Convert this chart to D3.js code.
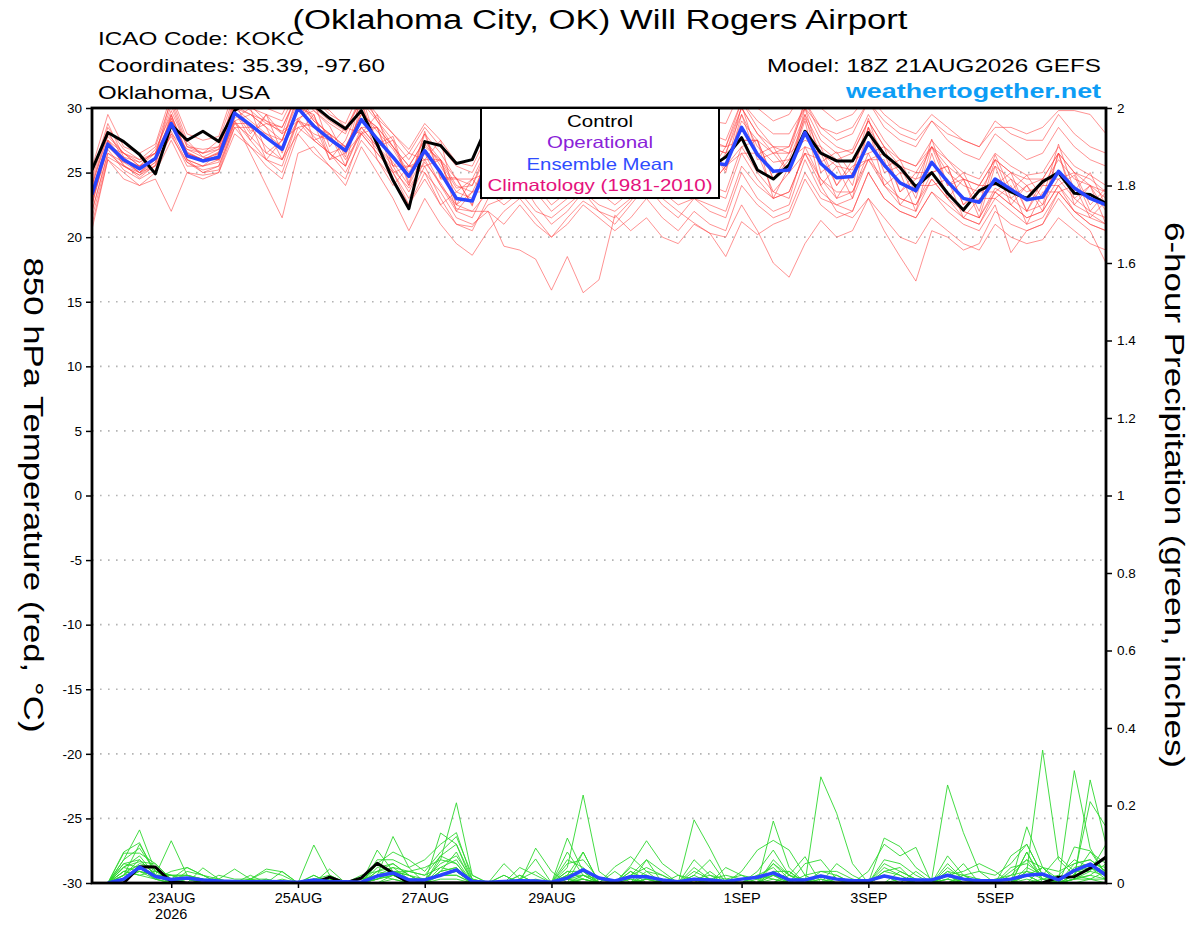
<!DOCTYPE html>
<html>
<head>
<meta charset="utf-8">
<script src="https://cdn.jsdelivr.net/npm/d3@7"></script>
<style>
  body { margin: 0; background: #fff; }
  svg text { font-family: "Liberation Sans", Arial, Helvetica, sans-serif; }
</style>
</head>
<body>
<svg id="chart" width="1200" height="927"></svg>
<script>
// GEFS run 18Z 21AUG2026, 6-hourly steps out to 6SEP 18Z
const runStart = Date.UTC(2026, 7, 21, 18);
const stepHours = 6;

// 850 hPa temperature (degC), steps 0..64
const tempControl = [25.2,28.1,27.4,26.4,24.9, 28.7,27.5,28.2,27.4,29.8, 30.6,31.0,31.2,30.8,30.2, 29.2,28.4,29.8,27.2,24.4, 22.2,27.4,27.1,25.7,26.0, 28.8,28.0,27.2,26.5,27.0, 27.8,26.9,26.2,27.0,27.5, 26.8,26.0,26.8,25.9,25.4, 26.2,27.7,25.2,24.5,25.6, 28.2,26.5,25.9,25.9,28.1, 26.4,25.4,23.9,25.0,23.4, 22.1,23.6,24.2,23.5,23.0, 24.3,25.0,23.4,23.3,22.6];
const tempMean = [23.3,27.2,26.0,25.3,26.1, 28.8,26.3,25.9,26.2,29.6, 28.7,27.7,26.8,30.0,28.6, 27.6,26.7,29.1,27.6,26.2, 24.7,26.7,25.0,23.0,22.8, 25.8,26.5,27.0,26.2,25.5, 26.0,26.8,26.3,25.8,26.5, 27.2,26.4,25.9,26.6,25.8, 25.6,28.5,26.4,25.1,25.2, 28.1,25.7,24.6,24.7,27.3, 25.6,24.2,23.6,25.8,24.3, 23.0,22.7,24.5,23.7,22.9, 23.1,25.1,23.8,23.0,22.5];
const tempMembers = [
  [24.5,28.5,26.8,26.0,27.0, 30.5,27.2,26.5,27.5,31.0, 30.2,29.0,28.0,31.5,30.0, 29.0,28.2,31.0,29.5,28.0, 26.5,28.5,27.0,25.5,25.0, 27.5,28.0,28.5,27.5,27.0, 27.8,28.5,28.0,27.2,28.0, 29.0,28.0,27.0,28.0,27.2, 27.0,30.0,28.0,27.0,27.0, 30.0,27.5,26.5,26.8,29.5, 27.5,26.0,25.5,27.5,26.0, 25.0,24.5,26.5,25.5,24.8, 25.0,27.0,25.5,24.8,24.0],
  [21.0,26.0,25.0,24.0,24.5, 22.0,25.0,24.8,25.0,28.0, 27.0,26.0,25.0,28.5,27.5, 26.5,25.0,27.5,26.0,24.5, 22.5,25.0,23.5,21.5,21.0, 22.0,19.3,19.0,18.3,15.9, 18.5,15.7,16.7,21.7,20.5, 21.5,20.0,19.5,21.0,20.3, 20.0,22.5,20.5,18.0,16.9, 19.5,21.3,20.0,20.5,23.0, 21.5,20.0,19.5,21.5,20.5, 19.5,19.0,21.0,20.0,19.5, 19.8,21.5,20.5,19.5,19.0],
  [22.5,27.5,25.5,24.8,25.8, 29.5,26.0,25.0,25.5,29.0, 26.5,24.0,21.5,26.5,27.0, 25.5,24.5,28.0,26.5,25.0, 23.0,25.5,23.0,21.0,20.5, 23.0,24.0,25.5,24.0,22.5, 23.5,25.0,24.5,23.0,24.0, 26.0,25.0,23.5,25.0,24.0, 23.5,27.0,25.0,23.5,23.0, 27.0,24.5,23.0,23.5,26.5, 24.0,22.5,22.0,24.5,23.0, 21.5,21.0,23.5,22.5,21.5, 22.0,24.0,22.0,21.5,21.0],
  [24.0,28.0,26.5,25.8,26.5, 30.2,27.0,26.8,27.0,30.5, 30.0,29.5,29.0,31.5,30.5, 29.8,28.5,30.5,29.0,27.5, 26.0,28.0,26.5,24.5,24.5, 27.0,28.5,29.0,28.0,27.0, 28.0,29.0,28.5,27.5,28.5, 29.5,28.0,27.5,28.5,27.5, 27.0,30.5,28.5,27.0,26.5, 30.5,28.0,27.0,26.5,29.0, 27.0,25.5,25.0,27.0,26.0, 24.5,24.0,26.0,25.0,24.5, 24.5,26.5,25.0,24.5,23.5],
  [23.0,27.0,25.8,25.0,26.0, 28.5,26.5,26.0,26.0,29.0, 29.5,28.5,26.0,28.0,29.5, 26.0,27.5,30.5,26.0,24.0, 25.5,25.0,22.5,23.5,24.5, 23.0,26.5,25.0,27.0,23.0, 24.5,27.5,24.0,26.0,23.5, 27.0,24.0,25.5,27.5,24.0, 25.5,27.0,27.5,23.0,25.5, 29.0,24.0,25.5,23.0,28.5, 24.0,25.0,22.0,26.5,23.0, 24.5,21.5,25.5,22.5,24.0, 22.0,26.5,22.5,24.0,21.0],
  [22.0,26.5,25.5,25.0,25.5, 28.0,25.5,25.5,26.0,29.5, 28.5,27.0,26.0,29.0,27.5, 26.5,25.5,28.5,27.0,25.5, 23.5,26.0,24.0,22.0,21.5, 24.0,24.5,25.0,23.5,22.0, 23.0,24.5,23.5,22.5,23.5, 25.0,24.0,23.0,24.5,23.5, 23.0,26.5,24.5,23.0,23.5, 26.5,24.0,22.0,21.5,23.0, 20.5,18.5,16.6,20.5,20.0, 19.0,19.5,22.0,21.0,20.5, 21.0,23.5,22.0,21.0,20.5],
  [23.5,27.5,26.0,25.5,26.0, 29.0,26.0,25.5,26.5,30.0, 29.5,28.5,27.5,30.5,29.0, 28.0,27.0,29.5,28.5,27.0, 25.5,27.5,25.5,23.5,23.0, 26.5,27.5,28.0,27.0,26.5, 27.0,28.0,27.5,27.0,27.5, 28.5,27.5,27.0,27.5,27.0, 26.5,30.0,28.0,26.5,27.0, 30.5,28.5,27.5,28.0,30.5, 28.5,27.5,27.0,29.0,27.5, 26.5,26.0,28.0,27.0,26.0, 26.5,28.5,27.0,26.0,25.5],
  [22.8,26.8,25.2,24.5,25.2, 28.0,26.8,26.5,26.8,29.0, 27.5,26.0,25.5,29.0,28.5, 28.0,26.0,28.0,26.5,25.0, 22.5,24.5,22.5,21.0,20.8, 22.5,23.0,24.5,22.5,21.0, 22.0,23.5,22.0,21.0,22.5, 24.0,22.5,21.5,23.0,22.0, 21.5,25.0,23.0,22.0,22.5, 26.0,23.5,22.5,22.0,25.0, 23.0,22.0,21.5,23.5,22.0, 21.0,20.5,22.5,18.8,20.5, 21.0,23.0,21.5,20.5,18.0],
  [24.0,27.8,26.5,25.5,26.8, 29.5,26.5,26.0,26.0,29.8, 27.5,29.5,28.0,29.0,30.5, 27.0,28.5,28.0,29.5,25.5, 26.5,26.0,27.5,22.5,24.5, 25.0,27.5,26.0,28.0,24.5, 27.5,26.0,28.0,25.0,28.0, 26.5,27.5,25.0,28.0,25.0, 27.0,27.5,27.5,24.5,26.5, 27.5,27.0,24.0,26.0,26.5, 27.0,23.5,25.0,25.0,25.5, 22.5,24.0,24.0,25.0,22.0, 24.5,24.5,25.0,22.5,23.8],
  [23.0,27.0,26.5,26.0,26.5, 29.0,26.0,25.5,25.8,29.2, 30.0,26.5,27.5,31.0,27.5, 28.0,25.5,30.5,27.0,27.5, 24.0,28.0,24.5,24.5,22.5, 27.0,26.0,28.5,25.5,27.0, 25.5,28.0,25.8,27.0,26.0, 28.5,26.0,27.0,26.0,27.0, 25.0,29.5,26.0,26.5,25.0, 29.5,25.0,26.0,24.0,28.5, 25.0,25.5,23.0,27.0,24.0, 24.5,22.0,26.0,23.0,24.0, 22.5,26.5,23.0,24.0,22.0],
  [20.6,26.0,24.5,24.0,25.0, 27.5,25.0,24.5,25.0,28.5, 27.0,25.5,24.5,28.0,26.5, 25.5,24.0,27.0,25.0,23.0, 20.5,23.0,21.0,19.5,18.6, 20.5,22.0,23.0,21.5,20.0, 21.0,22.5,21.5,20.5,21.5, 23.0,21.5,20.5,22.0,21.0, 20.5,24.0,22.5,21.5,22.0, 25.0,23.0,22.5,23.0,26.0, 24.0,23.0,22.5,25.0,23.5, 22.0,21.5,23.5,22.5,21.5, 22.0,24.0,22.5,21.8,21.0],
  [24.8,28.8,26.2,25.2,26.2, 30.8,27.5,26.2,26.8,30.8, 29.8,28.8,28.5,31.0,29.2, 27.8,26.5,29.8,28.2,26.8, 24.8,27.2,25.8,23.8,24.0, 27.0,27.8,28.8,27.8,27.0, 27.5,28.8,28.0,27.2,28.0, 29.0,28.0,27.0,28.0,27.0, 26.5,29.5,27.0,25.8,26.0, 29.2,26.5,25.5,25.2,28.5, 26.5,25.0,24.5,27.0,25.0, 24.0,23.5,25.5,24.5,23.5, 24.0,26.0,24.5,24.0,23.0],
  [22.0,26.5,25.8,25.5,26.0, 27.8,25.8,25.2,25.5,28.5, 28.5,28.0,27.0,29.0,28.0, 27.5,27.0,28.5,27.0,25.8, 24.0,26.5,24.0,22.5,22.0, 22.0,21.0,22.5,21.0,20.0, 21.5,22.8,22.0,21.5,22.8, 24.5,23.5,22.5,23.0,22.5, 22.0,25.5,24.0,23.0,23.5, 26.5,24.5,23.5,23.5,26.0, 24.5,23.0,22.5,24.5,23.0, 22.0,21.5,23.8,23.0,22.0, 22.5,24.5,23.0,22.0,21.5],
  [23.8,27.2,26.0,25.0,26.2, 29.2,26.2,26.0,26.5,29.8, 28.0,29.5,26.5,30.0,29.5, 26.5,27.0,28.5,28.5,25.5, 25.5,26.0,26.0,22.5,23.5, 24.5,27.0,25.5,26.5,24.0, 26.5,25.5,27.0,24.5,27.0, 26.0,27.0,24.5,27.0,24.5, 26.5,27.5,27.5,24.5,26.0, 27.0,26.5,24.0,25.5,26.0, 26.5,23.5,24.5,25.0,25.5, 22.5,23.5,23.5,24.5,22.0, 24.0,24.0,24.8,22.0,23.5],
  [25.4,29.5,27.0,26.5,27.2, 31.0,28.0,27.5,27.8,31.5, 30.5,30.0,29.5,32.0,30.8, 29.5,28.8,31.5,29.0,27.0, 25.0,27.0,26.0,24.0,23.5, 26.0,26.5,27.0,26.0,25.0, 26.0,27.0,26.5,26.0,26.5, 27.5,26.5,26.0,26.5,26.0, 25.5,29.0,27.5,26.5,26.5, 29.5,27.0,26.0,26.5,29.0, 27.0,26.0,25.5,27.0,25.5, 24.5,24.0,26.0,25.0,24.0, 24.5,26.5,25.0,24.0,23.5],
  [22.5,27.0,26.2,25.8,26.5, 28.5,26.8,26.2,26.0,28.8, 28.8,26.0,27.5,28.5,28.8, 26.0,26.5,28.0,28.5,25.0, 25.5,25.5,26.0,22.0,23.5, 23.5,26.0,25.0,26.0,23.5, 26.0,25.0,26.0,23.5,26.0, 25.5,26.5,23.5,26.5,24.0, 25.5,26.5,26.5,23.5,25.0, 26.5,26.0,23.0,25.0,26.0, 26.0,22.5,24.0,24.0,24.5, 21.5,23.0,23.0,24.0,21.0, 23.5,23.5,24.0,21.5,22.8],
  [23.5,27.5,26.5,25.5,26.5, 29.8,27.0,26.5,27.0,30.2, 29.5,29.0,28.5,31.2,29.8, 28.8,28.0,30.8,29.2,28.0, 26.8,28.8,27.5,25.8,25.5, 28.0,29.0,29.5,29.0,28.5, 29.0,30.0,29.5,29.0,29.5, 30.5,29.5,29.0,29.5,29.0, 28.8,31.5,30.0,29.0,29.5, 31.5,30.0,29.0,29.5,31.0, 29.5,28.5,28.0,29.5,28.5, 27.5,27.0,29.0,28.0,27.5, 27.5,29.5,28.0,27.0,26.5],
  [24.2,28.2,26.0,25.0,25.8, 29.2,26.5,26.0,26.5,30.0, 29.0,28.0,27.5,30.8,29.0, 28.0,27.0,29.5,28.5,27.0, 25.5,27.5,26.0,24.5,24.0, 26.5,27.0,28.0,27.5,27.0, 27.5,28.5,28.0,27.5,28.0, 29.0,28.5,28.0,28.5,28.0, 27.5,30.5,29.0,28.0,28.0, 30.0,28.5,28.0,28.5,30.5, 29.0,28.0,27.5,29.0,28.0, 27.5,27.0,28.5,28.5,28.0, 28.5,29.8,29.8,29.5,28.0],
  [21.5,26.2,25.5,24.8,25.5, 28.2,25.8,25.0,25.2,28.8, 27.8,26.5,26.0,29.2,27.8, 26.5,25.5,28.2,26.8,25.2, 23.8,25.8,24.2,22.2,22.0, 23.5,22.5,23.5,22.0,21.5, 22.5,23.5,22.5,22.0,23.0, 24.5,23.0,22.0,21.1,20.3, 18.5,21.2,20.2,21.0,21.5, 24.5,22.5,21.5,22.0,25.0, 23.0,22.0,21.5,23.5,22.5, 21.5,21.0,23.0,22.0,21.0, 21.5,23.5,22.0,21.0,20.5],
  [23.2,27.4,25.6,24.6,25.6, 29.4,26.6,26.0,26.6,30.4, 28.2,28.8,28.2,29.2,29.8, 28.6,26.2,31.0,27.2,27.8, 24.2,28.2,24.6,24.6,22.4, 27.2,25.8,28.6,25.6,27.0, 25.6,28.6,26.0,27.4,26.0, 29.0,26.0,27.4,26.0,27.4, 25.2,30.2,26.4,27.0,25.0, 30.0,25.8,26.6,24.8,29.2, 25.4,26.0,23.4,27.6,24.0, 25.0,22.6,26.4,23.6,24.8, 23.0,27.2,23.6,25.0,22.4]
];

// 6-hour precipitation (inches), steps 1..64
const precipControl = [0,0,0.042,0.041,0.003,0,0,0, 0,0,0,0,0,0,0.015,0, 0.013,0.051,0.026,0,0,0,0,0, 0,0,0,0,0,0,0,0, 0,0,0,0,0,0,0,0, 0,0,0,0,0,0,0,0, 0,0,0,0,0,0,0,0, 0,0,0,0,0.015,0.016,0.038,0.067];
const precipMean = [0,0.01,0.041,0.017,0.009,0.013,0.008,0.005, 0.004,0.003,0.004,0.003,0.002,0.008,0.004,0.003, 0.002,0.018,0.026,0.008,0.008,0.02,0.034,0.004, 0.002,0.004,0.006,0.005,0.002,0.013,0.034,0.013, 0.005,0.016,0.016,0.008,0.003,0.01,0.008,0.004, 0.01,0.015,0.026,0.008,0.008,0.018,0.01,0.006, 0.006,0.018,0.01,0.008,0.008,0.02,0.01,0.006, 0.006,0.01,0.02,0.023,0.008,0.032,0.049,0.02];
const precipMembers = [
  [0,.06,.137,.03,.01,0,0,0, 0,0,0,0,0,.02,0,0, 0,.03,.05,.02,0,.06,.207,.02, 0,0,.02,0,0,.04,.227,.03, 0,0,.02,0,0,.02,0,0, 0,0,.16,.04,0,.02,.01,0, 0,.02,0,0,0,.05,.01,0, 0,0,.03,.343,.06,.02,.01,0],
  [0,.08,.104,.02,.109,.02,0,0, 0,0,0,0,0,0,.01,0, 0,.085,.03,.01,.01,.02,.03,0, 0,0,0,.09,.03,0,.08,0, 0,.045,.109,.05,.02,.01,0,0, 0,0,0,.02,0,.274,.18,.05, 0,0,0,0,0,.02,0,0, 0,0,.03,.02,0,.29,.09,.02],
  [0,.077,.077,.05,.01,.04,.02,.01, .036,.01,.036,.029,0,.098,.02,0, 0,.02,.12,.04,0,.129,.1,.01, 0,.05,.01,.062,0,.116,.03,0, 0,0,.06,0,0,.163,.09,.01, 0,0,0,.03,0,.02,0,0, 0,.116,.094,.04,.01,.253,.13,.03, 0,0,0,.04,0,.01,.266,.10],
  [0,.042,.055,.049,.01,0,.039,.01, 0,0,0,0,0,0,.036,0, 0,.05,.08,.06,.03,.08,.12,.02, 0,0,0,0,0,.08,.02,0, .042,.068,.03,0,0,.01,.02,0, .03,.085,.11,.085,.02,0,0,0, 0,0,0,0,0,.07,.02,0, 0,0,.145,.04,0,.02,.08,.05],
  [0,.02,.1,.03,.02,.02,.01,0, 0,.02,0,.03,0,0,0,0, 0,.06,.06,.04,.06,.1,.13,.01, 0,0,.04,.02,0,.02,.08,0, 0,.02,.06,.03,0,.02,.06,0, 0,0,.02,0,.05,.06,.01,0, .03,.1,.07,.092,0,.02,0,0, 0,.07,.1,.02,0,.02,.21,.145],
  [0,.05,.06,.02,0,.03,.02,0, 0,0,.01,0,0,.02,0,0, 0,.05,.02,0,0,.07,.05,0, 0,0,0,0,0,.03,.03,0, 0,.03,0,0,0,.06,.02,.01, .02,.01,.05,.02,.068,0,0,0, 0,.03,.02,0,0,.02,.03,.05, .03,0,.08,0,0,.093,.083,.02],
  [0,.03,.045,.02,.02,.01,0,.02, .01,.01,.01,0,0,0,0,0, .02,.03,.04,.03,.02,.04,.06,0, 0,0,.01,.03,0,0,.02,.01, 0,0,.03,.02,0,0,.03,0, 0,.03,.085,.02,0,0,.05,.02, 0,0,0,.03,0,0,.02,.03, .02,.05,.1,.02,.068,.03,.03,.02],
  [0,.01,.04,.01,.03,.04,.02,0, 0,.01,.03,.02,0,.01,.02,0, .01,.02,.03,.02,0,.03,.08,0, 0,.02,0,0,0,.01,.01,0, 0,0,.01,0,.02,0,0,0, 0,.02,.04,0,.02,.03,.02,0, 0,.05,.03,.01,0,.03,.02,0, 0,0,.02,.04,.03,.05,.06,.03],
  [0,.04,.03,.02,.01,0,0,0, 0,0,0,0,0,.01,0,0, 0,.01,.03,.03,.02,.07,.1,0, 0,0,0,0,0,.05,.06,.01, 0,.04,.02,0,0,0,0,.04, .02,0,.03,.03,0,0,0,.01, 0,0,0,0,0,.04,.01,0, 0,0,.08,.01,.02,.06,.04,.01],
  [0,.03,.02,.03,.01,.02,.01,0, 0,.01,0,0,0,0,0,0, 0,.04,.05,.02,.01,.05,.07,.01, 0,0,.02,0,0,.06,.04,0, .03,0,.01,0,0,.03,.01,.02, .01,0,.06,.02,.01,0,.02,0, 0,0,.03,.01,0,.03,0,.01, 0,.04,.05,.02,0,.01,.03,.1],
  [0,.02,.05,.04,0,.01,0,0, 0,0,0,0,0,0,.01,0, 0,.03,.02,.01,0,.02,.02,0, 0,0,0,0,0,.01,.02,0, 0,.01,0,0,0,0,.01,0, 0,0,.03,0,0,0,0,0, 0,.03,.04,0,0,0,.02,.01, 0,.03,.06,.04,.01,.03,.04,.02],
  [0,.06,.09,.03,.02,.02,.01,.01, 0,.01,0,0,0,.01,0,0, 0,.01,.03,.02,0,.03,.04,0, 0,0,0,0,0,0,.01,0, 0,.02,.04,.02,0,.01,.01,0, 0,.01,.02,.01,0,0,0,0, 0,.06,.05,.02,0,.01,0,0, 0,0,.04,.02,0,.05,.06,.03],
  [0,.02,.03,.01,0,0,0,0, 0,0,0,0,0,0,0,0, 0,.02,.04,.01,0,.04,.03,0, 0,.02,0,0,0,.02,.03,0, 0,0,.01,0,0,0,0,0, 0,.02,.01,0,0,0,0,0, 0,.02,.01,0,0,.01,0,0, 0,0,.02,0,0,.01,.02,.01],
  [0,.04,.07,.02,.01,0,0,0, 0,0,0,.01,0,0,0,0, 0,.01,.02,.03,.04,.06,.05,0, 0,0,.01,0,0,.03,.01,0, 0,.03,.01,.01,0,.04,.01,0, 0,0,.05,.01,0,.03,.03,.01, 0,.04,.02,0,0,.01,.05,0, .01,.02,.06,.01,0,.04,.05,.04],
  [0,.03,.02,.01,0,0,0,0, 0,0,0,0,0,0,0,0, 0,0,.01,0,0,.02,.02,0, 0,0,0,0,0,.01,0,0, 0,0,0,0,0,0,0,0, 0,0,.01,0,0,0,.01,0, 0,0,.01,0,0,0,0,0, 0,0,.01,0,0,.01,.02,.05],
  [0,.01,.03,.02,0,0,0,0, 0,0,0,0,0,0,0,0, 0,.02,.01,0,0,.01,.01,0, 0,0,0,0,0,0,.01,0, 0,0,0,0,0,0,0,0, 0,0,0,0,0,.01,0,0, 0,0,0,0,0,0,0,0, 0,0,0,.01,0,0,.01,.03],
  [0,.05,.04,.01,0,.01,0,0, 0,0,0,0,0,0,0,0, 0,.01,.02,0,0,.03,.04,0, 0,0,0,.01,0,.02,.02,0, 0,0,.02,0,0,0,0,0, 0,0,.02,0,0,.01,0,0, 0,.02,0,0,0,.02,0,0, 0,.02,.03,.01,0,.02,.04,.02],
  [0,.02,.06,.02,.02,0,0,0, 0,0,0,0,0,0,0,0, 0,0,.02,.01,.01,.02,.03,0, 0,0,0,0,0,.01,0,0, 0,.01,0,0,0,0,0,0, 0,0,0,0,0,0,0,0, 0,0,0,0,0,0,.01,0, 0,0,.02,0,0,.01,.01,.01]
];

const tempTicks = [30, 25, 20, 15, 10, 5, 0, -5, -10, -15, -20, -25, -30];
const tempGrid = [25, 20, 15, 10, 5, 0, -5, -10, -15, -20, -25];
const precipTicks = [0, 0.2, 0.4, 0.6, 0.8, 1, 1.2, 1.4, 1.6, 1.8, 2];
const dateTicks = ["2026-08-23", "2026-08-25", "2026-08-27", "2026-08-29", "2026-09-01", "2026-09-03", "2026-09-05"];
const legendItems = [
  { label: "Control", color: "#000000", len: 66 },
  { label: "Operational", color: "#8a22d8", len: 106 },
  { label: "Ensemble Mean", color: "#2f4cff", len: 147 },
  { label: "Climatology (1981-2010)", color: "#e5117c", len: 225 }
];

const svg = d3.select("#chart");
const plot = { left: 92, right: 1106, top: 108, bottom: 883 };

const stepTime = i => new Date(runStart + i * stepHours * 3600 * 1000);
const x = d3.scaleUtc().domain([stepTime(0), stepTime(64)]).range([plot.left, plot.right]);
const yT = d3.scaleLinear().domain([-30, 30]).range([plot.bottom, plot.top]);
const yP = d3.scaleLinear().domain([0, 2]).range([plot.bottom, plot.top]);

svg.append("defs").append("clipPath").attr("id", "plotClip")
  .append("rect").attr("x", plot.left).attr("y", plot.top)
  .attr("width", plot.right - plot.left).attr("height", plot.bottom - plot.top);

// dotted grid at temperature ticks
svg.append("g").selectAll("line").data(tempGrid).enter().append("line")
  .attr("x1", plot.left).attr("x2", plot.right)
  .attr("y1", d => yT(d)).attr("y2", d => yT(d))
  .attr("stroke", "#b4b4b4").attr("stroke-width", 1.6).attr("stroke-dasharray", "1.6,6.4");

const g = svg.append("g").attr("clip-path", "url(#plotClip)");

const tempLine = d3.line().x((d, i) => x(stepTime(i))).y(d => yT(d));
const precipLine = d3.line().x((d, i) => x(stepTime(i + 1))).y(d => yP(d));

g.selectAll(".tmem").data(tempMembers).enter().append("path")
  .attr("class", "tmem").attr("d", tempLine)
  .attr("fill", "none").attr("stroke", "#ff3b3b").attr("stroke-opacity", 0.62).attr("stroke-width", 0.9);

g.selectAll(".pmem").data(precipMembers).enter().append("path")
  .attr("class", "pmem").attr("d", precipLine)
  .attr("fill", "none").attr("stroke", "#2fd82f").attr("stroke-width", 0.9);

g.append("path").datum(tempControl).attr("d", tempLine)
  .attr("fill", "none").attr("stroke", "#000").attr("stroke-width", 3).attr("stroke-linejoin", "round");
g.append("path").datum(tempMean).attr("d", tempLine)
  .attr("fill", "none").attr("stroke", "#2a45ff").attr("stroke-width", 3.5).attr("stroke-linejoin", "round");
g.append("path").datum(precipControl).attr("d", precipLine)
  .attr("fill", "none").attr("stroke", "#000").attr("stroke-width", 3).attr("stroke-linejoin", "round");
g.append("path").datum(precipMean).attr("d", precipLine)
  .attr("fill", "none").attr("stroke", "#2a45ff").attr("stroke-width", 3.5).attr("stroke-linejoin", "round");

// axes
const styleAxis = (sel, size) => {
  sel.select(".domain").remove();
  sel.selectAll("line").attr("stroke", "#000").attr("stroke-width", 1.5);
  sel.selectAll("text").attr("fill", "#000").style("font-size", size + "px")
    .style("font-family", "'Liberation Sans', Arial, sans-serif");
};

svg.append("g").attr("transform", `translate(${plot.left},0)`)
  .call(d3.axisLeft(yT).tickValues(tempTicks).tickSize(6).tickPadding(4).tickFormat(d => String(d)))
  .call(sel => styleAxis(sel, 13.5));

svg.append("g").attr("transform", `translate(${plot.right},0)`)
  .call(d3.axisRight(yP).tickValues(precipTicks).tickSize(6).tickPadding(5).tickFormat(d => String(+d.toFixed(1))))
  .call(sel => styleAxis(sel, 13.5));

const dayFmt = d3.utcFormat("%-d"), monFmt = d3.utcFormat("%b");
svg.append("g").attr("transform", `translate(0,${plot.bottom})`)
  .call(d3.axisBottom(x).tickValues(dateTicks.map(s => new Date(s + "T00:00:00Z")))
    .tickSize(5).tickPadding(5).tickFormat(d => dayFmt(d) + monFmt(d).toUpperCase()))
  .call(sel => styleAxis(sel, 14.5));

svg.append("text").attr("x", x(new Date("2026-08-23T00:00:00Z"))).attr("y", 919)
  .attr("text-anchor", "middle").style("font-size", "14.5px").text("2026");

// frame
svg.append("rect").attr("x", plot.left).attr("y", plot.top)
  .attr("width", plot.right - plot.left).attr("height", plot.bottom - plot.top)
  .attr("fill", "none").attr("stroke", "#000").attr("stroke-width", 2.8);

// legend
const legend = svg.append("g");
legend.append("rect").attr("x", 481).attr("y", plot.top).attr("width", 238).attr("height", 90)
  .attr("fill", "#fff").attr("stroke", "#000").attr("stroke-width", 2);
legend.selectAll("text").data(legendItems).enter().append("text")
  .attr("x", 600).attr("y", (d, i) => 127 + i * 21.3)
  .attr("text-anchor", "middle").attr("fill", d => d.color)
  .attr("textLength", d => d.len).attr("lengthAdjust", "spacingAndGlyphs")
  .style("font-size", "16.5px").text(d => d.label);

// header
const header = [
  { text: "(Oklahoma City, OK) Will Rogers Airport", x: 600, y: 29, anchor: "middle", size: 27, len: 615 },
  { text: "ICAO Code: KOKC", x: 98, y: 45, anchor: "start", size: 19, len: 206 },
  { text: "Coordinates: 35.39, -97.60", x: 98, y: 72, anchor: "start", size: 19, len: 287 },
  { text: "Oklahoma, USA", x: 98, y: 99, anchor: "start", size: 19, len: 172 },
  { text: "Model: 18Z 21AUG2026 GEFS", x: 1101, y: 72, anchor: "end", size: 19, len: 334 }
];
svg.append("g").selectAll("text").data(header).enter().append("text")
  .attr("x", d => d.x).attr("y", d => d.y).attr("text-anchor", d => d.anchor)
  .attr("textLength", d => d.len).attr("lengthAdjust", "spacingAndGlyphs")
  .style("font-size", d => d.size + "px").text(d => d.text);

svg.append("text").attr("x", 1101).attr("y", 98).attr("text-anchor", "end")
  .attr("textLength", 255).attr("lengthAdjust", "spacingAndGlyphs")
  .attr("fill", "#0d9df5").style("font-size", "21px").style("font-weight", "bold")
  .text("weathertogether.net");

// axis titles
svg.append("text").attr("transform", "translate(24,495) rotate(90)")
  .attr("text-anchor", "middle").attr("textLength", 475).attr("lengthAdjust", "spacingAndGlyphs")
  .style("font-size", "27px").text("850 hPa Temperature (red, °C)");
svg.append("text").attr("transform", "translate(1165,495) rotate(90)")
  .attr("text-anchor", "middle").attr("textLength", 546).attr("lengthAdjust", "spacingAndGlyphs")
  .style("font-size", "27px").text("6-hour Precipitation (green, inches)");
</script>
</body>
</html>
